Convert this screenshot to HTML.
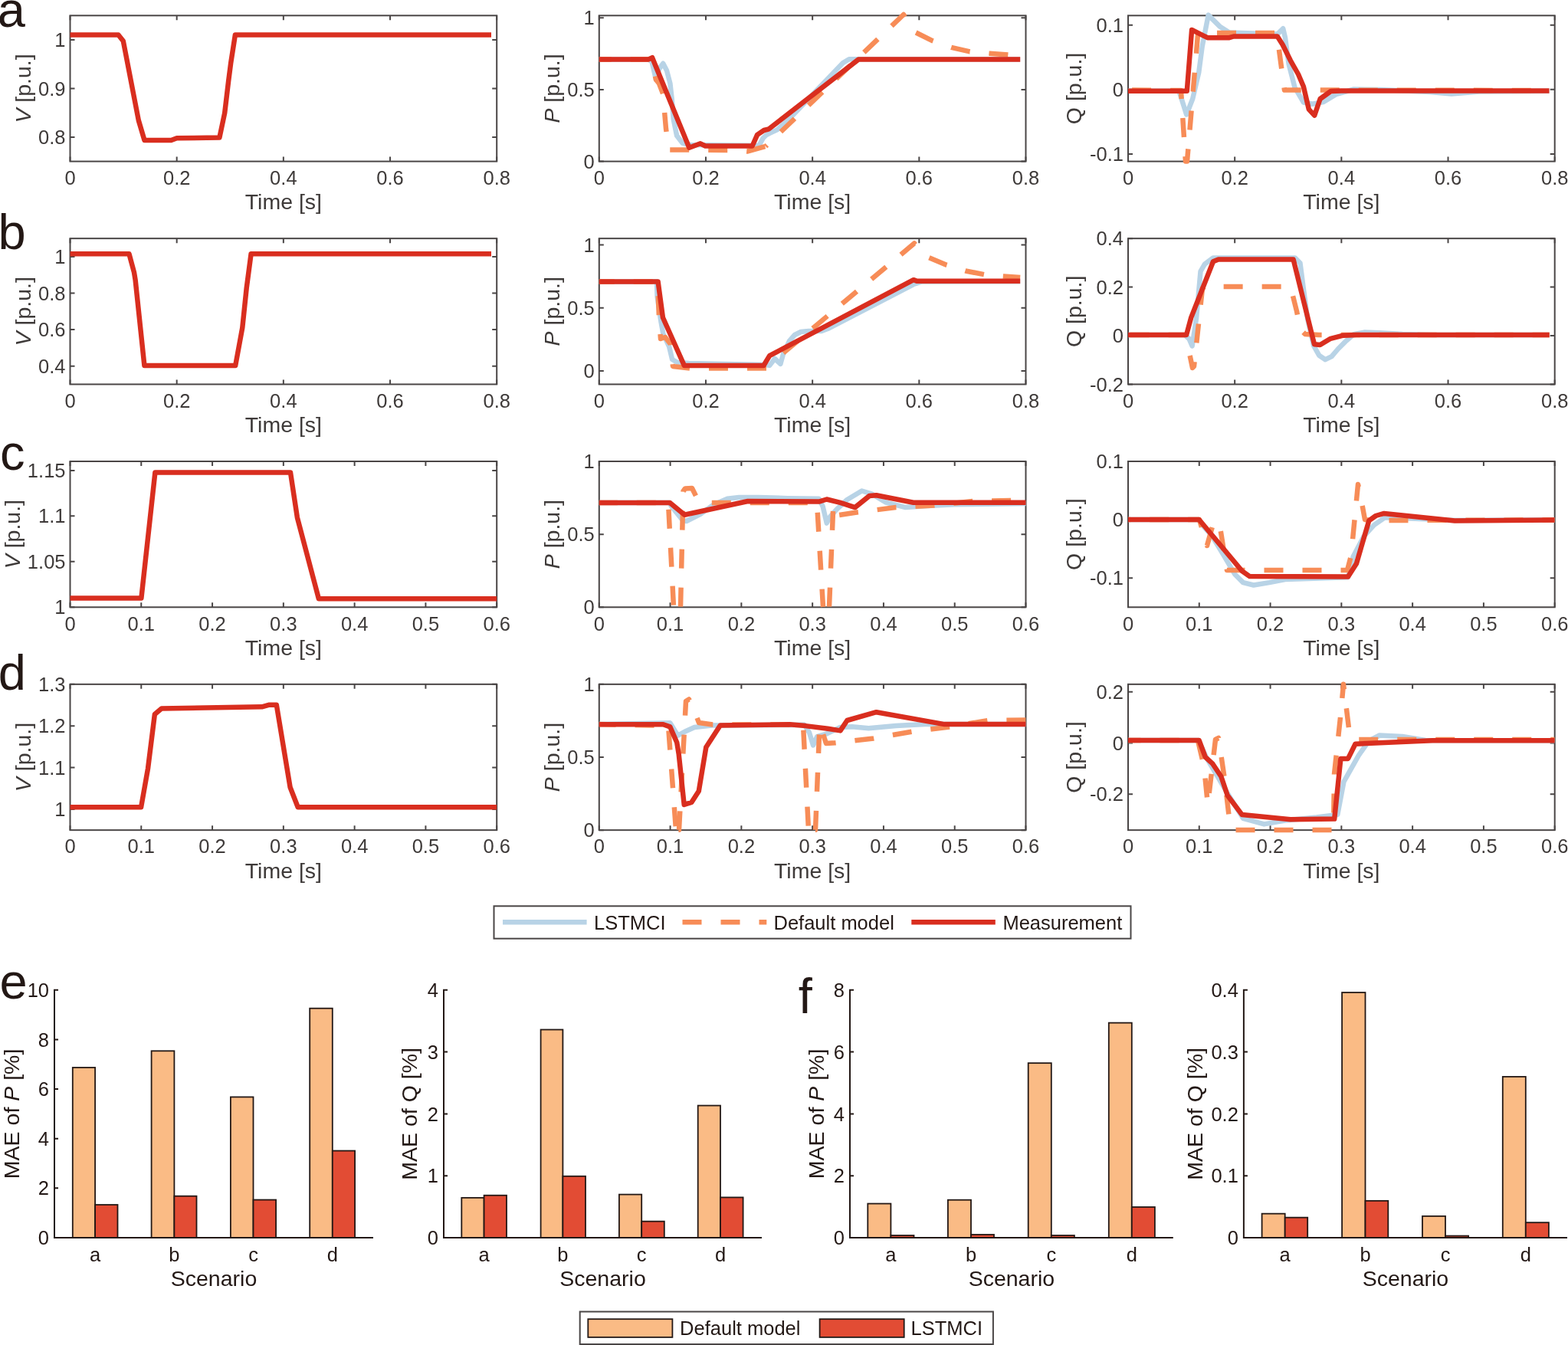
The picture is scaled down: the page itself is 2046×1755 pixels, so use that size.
<!DOCTYPE html>
<html><head><meta charset="utf-8"><title>Figure</title>
<style>html,body{margin:0;padding:0;background:#fff;}svg{display:block;}</style>
</head><body>
<svg width="2046" height="1755" viewBox="0 0 2046 1755" font-family="'Liberation Sans', Arial, Helvetica, sans-serif">
<rect width="2046" height="1755" fill="#fff"/>
<rect x="91.5" y="20.3" width="556.7" height="190.3" fill="none" stroke="#4a4646" stroke-width="2"/>
<text x="91.5" y="240.8" font-size="25.5" fill="#3e3a39" text-anchor="middle" >0</text>
<text x="230.68" y="240.8" font-size="25.5" fill="#3e3a39" text-anchor="middle" >0.2</text>
<text x="369.85" y="240.8" font-size="25.5" fill="#3e3a39" text-anchor="middle" >0.4</text>
<text x="509.03" y="240.8" font-size="25.5" fill="#3e3a39" text-anchor="middle" >0.6</text>
<text x="648.2" y="240.8" font-size="25.5" fill="#3e3a39" text-anchor="middle" >0.8</text>
<text x="85.5" y="188.01" font-size="25.5" fill="#3e3a39" text-anchor="end" >0.8</text>
<text x="85.5" y="124.58" font-size="25.5" fill="#3e3a39" text-anchor="end" >0.9</text>
<text x="85.5" y="61.15" font-size="25.5" fill="#3e3a39" text-anchor="end" >1</text>
<path d="M91.5 210.6v-6M91.5 20.3v6M230.68 210.6v-6M230.68 20.3v6M369.85 210.6v-6M369.85 20.3v6M509.03 210.6v-6M509.03 20.3v6M648.2 210.6v-6M648.2 20.3v6M91.5 178.88h6M648.2 178.88h-6M91.5 115.45h6M648.2 115.45h-6M91.5 52.02h6M648.2 52.02h-6" stroke="#4a4646" stroke-width="2" fill="none"/>
<g fill="none" stroke-linejoin="round">
<path d="M91.5 45.4 L154.4 45.4 L160.8 53.5 L180.8 157 L188.5 183 L223.4 183 L230.7 180.2 L286.4 179.6 L293.2 147.3 L298.1 106.2 L301.1 82.8 L306.9 45.6 L641 45.6" stroke="#d92e1f" stroke-width="6.5"/>
</g>
<text x="369.85" y="273.4" font-size="28.5" fill="#3e3a39" text-anchor="middle" >Time [s]</text>
<text transform="translate(39.7 115.45) rotate(-90)" font-size="28.5" fill="#3e3a39" text-anchor="middle"><tspan font-style="italic">V</tspan> [p.u.]</text>
<rect x="781.8" y="20.3" width="556.7" height="190.3" fill="none" stroke="#4a4646" stroke-width="2"/>
<text x="781.8" y="240.8" font-size="25.5" fill="#3e3a39" text-anchor="middle" >0</text>
<text x="920.97" y="240.8" font-size="25.5" fill="#3e3a39" text-anchor="middle" >0.2</text>
<text x="1060.15" y="240.8" font-size="25.5" fill="#3e3a39" text-anchor="middle" >0.4</text>
<text x="1199.33" y="240.8" font-size="25.5" fill="#3e3a39" text-anchor="middle" >0.6</text>
<text x="1338.5" y="240.8" font-size="25.5" fill="#3e3a39" text-anchor="middle" >0.8</text>
<text x="775.8" y="219.73" font-size="25.5" fill="#3e3a39" text-anchor="end" >0</text>
<text x="775.8" y="126.03" font-size="25.5" fill="#3e3a39" text-anchor="end" >0.5</text>
<text x="775.8" y="32.33" font-size="25.5" fill="#3e3a39" text-anchor="end" >1</text>
<path d="M781.8 210.6v-6M781.8 20.3v6M920.97 210.6v-6M920.97 20.3v6M1060.15 210.6v-6M1060.15 20.3v6M1199.33 210.6v-6M1199.33 20.3v6M1338.5 210.6v-6M1338.5 20.3v6M781.8 210.6h6M1338.5 210.6h-6M781.8 116.9h6M1338.5 116.9h-6M781.8 23.2h6M1338.5 23.2h-6" stroke="#4a4646" stroke-width="2" fill="none"/>
<g fill="none" stroke-linejoin="round">
<path d="M781.8 77.4 L846 77.4 L850.6 80.6 L856 104 L860 90 L865.2 82.8 L870 92 L874.4 108.8 L876.6 128.3 L878.7 155.4 L883.1 177 L890.6 186.8 L900.4 189 L990.3 190 L995.7 180.3 L1000 176 L1004.3 173.8 L1014 169.4 L1030 155 L1100 82 L1108 77.2 L1331.2 77.4" stroke="#b8d3e6" stroke-width="6.5"/>
<path d="M781.8 77.4 L850 77.4 L856 104 L860 109 L865 122 L869 168 L873 195.4 L960 196 L975 197.5 L999 191" stroke="#f78c57" stroke-width="6.5" stroke-dasharray="25 25" stroke-dashoffset="9.1"/>
<path d="M999 191 L1179 19 L1195 42.4 L1217 53.3 L1241.3 61.9 L1265.5 67.4 L1291.3 69.7 L1315.6 71.6 L1331.2 72.3" stroke="#f78c57" stroke-width="6.5" stroke-dasharray="25 25" stroke-dashoffset="22.5"/>
<path d="M781.8 77.4 L846.2 77.4 L851.1 75.2 L899.3 192.7 L913.9 187.3 L920.4 190.5 L981.6 190.5 L988.1 175.9 L996.8 170 L1003.3 168.3 L1120.1 77.6 L1331.2 77.6" stroke="#d92e1f" stroke-width="6.5"/>
</g>
<text x="1060.15" y="273.4" font-size="28.5" fill="#3e3a39" text-anchor="middle" >Time [s]</text>
<text transform="translate(730 115.45) rotate(-90)" font-size="28.5" fill="#3e3a39" text-anchor="middle"><tspan font-style="italic">P</tspan> [p.u.]</text>
<rect x="1472" y="20.3" width="556.7" height="190.3" fill="none" stroke="#4a4646" stroke-width="2"/>
<text x="1472" y="240.8" font-size="25.5" fill="#3e3a39" text-anchor="middle" >0</text>
<text x="1611.17" y="240.8" font-size="25.5" fill="#3e3a39" text-anchor="middle" >0.2</text>
<text x="1750.35" y="240.8" font-size="25.5" fill="#3e3a39" text-anchor="middle" >0.4</text>
<text x="1889.53" y="240.8" font-size="25.5" fill="#3e3a39" text-anchor="middle" >0.6</text>
<text x="2028.7" y="240.8" font-size="25.5" fill="#3e3a39" text-anchor="middle" >0.8</text>
<text x="1466" y="210.06" font-size="25.5" fill="#3e3a39" text-anchor="end" >-0.1</text>
<text x="1466" y="125.97" font-size="25.5" fill="#3e3a39" text-anchor="end" >0</text>
<text x="1466" y="41.87" font-size="25.5" fill="#3e3a39" text-anchor="end" >0.1</text>
<path d="M1472 210.6v-6M1472 20.3v6M1611.17 210.6v-6M1611.17 20.3v6M1750.35 210.6v-6M1750.35 20.3v6M1889.53 210.6v-6M1889.53 20.3v6M2028.7 210.6v-6M2028.7 20.3v6M1472 200.93h6M2028.7 200.93h-6M1472 116.84h6M2028.7 116.84h-6M1472 32.75h6M2028.7 32.75h-6" stroke="#4a4646" stroke-width="2" fill="none"/>
<g fill="none" stroke-linejoin="round">
<path d="M1472 118.7 L1538 118.7 L1540.3 124.4 L1548.2 149.5 L1556.2 129 L1564.2 94.8 L1568.7 60.6 L1576.7 19.6 L1591.5 34.4 L1604.1 42.4 L1666.8 44.6 L1674.2 37.2 L1677 49.2 L1681.6 83.4 L1689.5 114.1 L1700.9 133.5 L1712.3 135.8 L1726.6 133.1 L1743.2 123.1 L1766.5 116.5 L1800 117 L1866 120 L1894 122.5 L1930 119.5 L2021.5 118.7" stroke="#b8d3e6" stroke-width="6.5"/>
<path d="M1472 117.5 L1541 118 L1547 210.6 L1549 210.6 L1563 45 L1588 42.9 L1666 42.9 L1676 117.5 L2021.5 118" stroke="#f78c57" stroke-width="6.5" stroke-dasharray="25 25" stroke-dashoffset="44.9"/>
<path d="M1472 118.7 L1548.8 118.7 L1555.1 38.9 L1569.9 46.3 L1575.6 49.2 L1604.1 49.2 L1609.8 47.5 L1666.8 47.5 L1673.6 58.3 L1683.8 78.8 L1694.1 97 L1700.9 113 L1707.8 142.6 L1715.2 150.6 L1722.6 129 L1736.6 119 L1750 118.5 L2021.5 118.5" stroke="#d92e1f" stroke-width="6.5"/>
</g>
<text x="1750.35" y="273.4" font-size="28.5" fill="#3e3a39" text-anchor="middle" >Time [s]</text>
<text transform="translate(1411 115.45) rotate(-90)" font-size="28.5" fill="#3e3a39" text-anchor="middle">Q [p.u.]</text>
<rect x="91.5" y="311.15" width="556.7" height="190.3" fill="none" stroke="#4a4646" stroke-width="2"/>
<text x="91.5" y="531.65" font-size="25.5" fill="#3e3a39" text-anchor="middle" >0</text>
<text x="230.68" y="531.65" font-size="25.5" fill="#3e3a39" text-anchor="middle" >0.2</text>
<text x="369.85" y="531.65" font-size="25.5" fill="#3e3a39" text-anchor="middle" >0.4</text>
<text x="509.03" y="531.65" font-size="25.5" fill="#3e3a39" text-anchor="middle" >0.6</text>
<text x="648.2" y="531.65" font-size="25.5" fill="#3e3a39" text-anchor="middle" >0.8</text>
<text x="85.5" y="486.79" font-size="25.5" fill="#3e3a39" text-anchor="end" >0.4</text>
<text x="85.5" y="439.22" font-size="25.5" fill="#3e3a39" text-anchor="end" >0.6</text>
<text x="85.5" y="391.64" font-size="25.5" fill="#3e3a39" text-anchor="end" >0.8</text>
<text x="85.5" y="344.07" font-size="25.5" fill="#3e3a39" text-anchor="end" >1</text>
<path d="M91.5 501.45v-6M91.5 311.15v6M230.68 501.45v-6M230.68 311.15v6M369.85 501.45v-6M369.85 311.15v6M509.03 501.45v-6M509.03 311.15v6M648.2 501.45v-6M648.2 311.15v6M91.5 477.66h6M648.2 477.66h-6M91.5 430.09h6M648.2 430.09h-6M91.5 382.51h6M648.2 382.51h-6M91.5 334.94h6M648.2 334.94h-6" stroke="#4a4646" stroke-width="2" fill="none"/>
<g fill="none" stroke-linejoin="round">
<path d="M91.5 331.3 L168.5 331.3 L175 355.5 L176.6 365.2 L188.4 477 L307.2 477 L316.3 427.5 L321.7 375.9 L327.6 331.3 L641 331.3" stroke="#d92e1f" stroke-width="6.5"/>
</g>
<text x="369.85" y="564.25" font-size="28.5" fill="#3e3a39" text-anchor="middle" >Time [s]</text>
<text transform="translate(39.7 406.3) rotate(-90)" font-size="28.5" fill="#3e3a39" text-anchor="middle"><tspan font-style="italic">V</tspan> [p.u.]</text>
<rect x="781.8" y="311.15" width="556.7" height="190.3" fill="none" stroke="#4a4646" stroke-width="2"/>
<text x="781.8" y="531.65" font-size="25.5" fill="#3e3a39" text-anchor="middle" >0</text>
<text x="920.97" y="531.65" font-size="25.5" fill="#3e3a39" text-anchor="middle" >0.2</text>
<text x="1060.15" y="531.65" font-size="25.5" fill="#3e3a39" text-anchor="middle" >0.4</text>
<text x="1199.33" y="531.65" font-size="25.5" fill="#3e3a39" text-anchor="middle" >0.6</text>
<text x="1338.5" y="531.65" font-size="25.5" fill="#3e3a39" text-anchor="middle" >0.8</text>
<text x="775.8" y="493.14" font-size="25.5" fill="#3e3a39" text-anchor="end" >0</text>
<text x="775.8" y="410.91" font-size="25.5" fill="#3e3a39" text-anchor="end" >0.5</text>
<text x="775.8" y="328.67" font-size="25.5" fill="#3e3a39" text-anchor="end" >1</text>
<path d="M781.8 501.45v-6M781.8 311.15v6M920.97 501.45v-6M920.97 311.15v6M1060.15 501.45v-6M1060.15 311.15v6M1199.33 501.45v-6M1199.33 311.15v6M1338.5 501.45v-6M1338.5 311.15v6M781.8 484.02h6M1338.5 484.02h-6M781.8 401.78h6M1338.5 401.78h-6M781.8 319.54h6M1338.5 319.54h-6" stroke="#4a4646" stroke-width="2" fill="none"/>
<g fill="none" stroke-linejoin="round">
<path d="M781.8 367.4 L857 367.4 L857.6 386.9 L862.5 420 L865.4 435.8 L873.2 452.4 L877.1 469 L884 473 L898.7 474 L996.4 475.9 L1004.2 476.9 L1011 468 L1018.4 474.9 L1022 462 L1030 445 L1037 437 L1045 433 L1055 432 L1072 432 L1080 429 L1192 371 L1203 367.5 L1331.2 367.2" stroke="#b8d3e6" stroke-width="6.5"/>
<path d="M781.8 367.4 L858 367.4 L860 415 L862 442 L868 440 L875 449 L878 478 L900 480.5 L1000 480.5 L1005 476" stroke="#f78c57" stroke-width="6.5" stroke-dasharray="25 25" stroke-dashoffset="5.1"/>
<path d="M1005 476 L1018.9 463.2 L1193 317.5 L1205 331 L1212.4 336.3 L1235 345.7 L1260 353.5 L1284.3 358.2 L1309.3 360.5 L1331.2 362.1" stroke="#f78c57" stroke-width="6.5" stroke-dasharray="25 25" stroke-dashoffset="26.9"/>
<path d="M781.8 367.4 L858.6 367.4 L864.9 414.3 L892.8 476.9 L996.4 477 L1004.2 464.1 L1192 365.2 L1196.7 366.8 L1331.2 366.8" stroke="#d92e1f" stroke-width="6.5"/>
</g>
<text x="1060.15" y="564.25" font-size="28.5" fill="#3e3a39" text-anchor="middle" >Time [s]</text>
<text transform="translate(730 406.3) rotate(-90)" font-size="28.5" fill="#3e3a39" text-anchor="middle"><tspan font-style="italic">P</tspan> [p.u.]</text>
<rect x="1472" y="311.15" width="556.7" height="190.3" fill="none" stroke="#4a4646" stroke-width="2"/>
<text x="1472" y="531.65" font-size="25.5" fill="#3e3a39" text-anchor="middle" >0</text>
<text x="1611.17" y="531.65" font-size="25.5" fill="#3e3a39" text-anchor="middle" >0.2</text>
<text x="1750.35" y="531.65" font-size="25.5" fill="#3e3a39" text-anchor="middle" >0.4</text>
<text x="1889.53" y="531.65" font-size="25.5" fill="#3e3a39" text-anchor="middle" >0.6</text>
<text x="2028.7" y="531.65" font-size="25.5" fill="#3e3a39" text-anchor="middle" >0.8</text>
<text x="1466" y="510.58" font-size="25.5" fill="#3e3a39" text-anchor="end" >-0.2</text>
<text x="1466" y="447.15" font-size="25.5" fill="#3e3a39" text-anchor="end" >0</text>
<text x="1466" y="383.71" font-size="25.5" fill="#3e3a39" text-anchor="end" >0.2</text>
<text x="1466" y="320.28" font-size="25.5" fill="#3e3a39" text-anchor="end" >0.4</text>
<path d="M1472 501.45v-6M1472 311.15v6M1611.17 501.45v-6M1611.17 311.15v6M1750.35 501.45v-6M1750.35 311.15v6M1889.53 501.45v-6M1889.53 311.15v6M2028.7 501.45v-6M2028.7 311.15v6M1472 501.45h6M2028.7 501.45h-6M1472 438.02h6M2028.7 438.02h-6M1472 374.58h6M2028.7 374.58h-6M1472 311.15h6M2028.7 311.15h-6" stroke="#4a4646" stroke-width="2" fill="none"/>
<g fill="none" stroke-linejoin="round">
<path d="M1472 437 L1546 437 L1551.5 442 L1555.6 451.4 L1561 415.8 L1566.5 354.2 L1572 344.6 L1583 336.4 L1689.7 336.4 L1696.5 343.3 L1700.6 374.7 L1706.1 415.8 L1714.3 451.4 L1721.2 463.7 L1729.4 469.2 L1737.6 465.1 L1745.8 455.5 L1755.4 445.9 L1766.3 436.3 L1780 433.6 L1800 434.3 L1830 436 L1870 437 L2021.7 437" stroke="#b8d3e6" stroke-width="6.5"/>
<path d="M1472 437 L1547 437 L1556 480 L1558 478 L1569 376 L1572 374 L1684 374 L1692 406 L1697 430 L1703 436 L1721 437 L2021.7 437" stroke="#f78c57" stroke-width="6.5" stroke-dasharray="25 25" stroke-dashoffset="47.4"/>
<path d="M1472 437 L1548.1 437 L1554.2 414.4 L1583 341.2 L1589.8 338.5 L1687.6 338.5 L1715 449.3 L1722.5 450 L1736.2 441.8 L1752.7 437.7 L1770 437 L2021.7 436.9" stroke="#d92e1f" stroke-width="6.5"/>
</g>
<text x="1750.35" y="564.25" font-size="28.5" fill="#3e3a39" text-anchor="middle" >Time [s]</text>
<text transform="translate(1411 406.3) rotate(-90)" font-size="28.5" fill="#3e3a39" text-anchor="middle">Q [p.u.]</text>
<rect x="91.5" y="602" width="556.7" height="190.3" fill="none" stroke="#4a4646" stroke-width="2"/>
<text x="91.5" y="822.5" font-size="25.5" fill="#3e3a39" text-anchor="middle" >0</text>
<text x="184.28" y="822.5" font-size="25.5" fill="#3e3a39" text-anchor="middle" >0.1</text>
<text x="277.07" y="822.5" font-size="25.5" fill="#3e3a39" text-anchor="middle" >0.2</text>
<text x="369.85" y="822.5" font-size="25.5" fill="#3e3a39" text-anchor="middle" >0.3</text>
<text x="462.63" y="822.5" font-size="25.5" fill="#3e3a39" text-anchor="middle" >0.4</text>
<text x="555.42" y="822.5" font-size="25.5" fill="#3e3a39" text-anchor="middle" >0.5</text>
<text x="648.2" y="822.5" font-size="25.5" fill="#3e3a39" text-anchor="middle" >0.6</text>
<text x="85.5" y="801.43" font-size="25.5" fill="#3e3a39" text-anchor="end" >1</text>
<text x="85.5" y="741.96" font-size="25.5" fill="#3e3a39" text-anchor="end" >1.05</text>
<text x="85.5" y="682.49" font-size="25.5" fill="#3e3a39" text-anchor="end" >1.1</text>
<text x="85.5" y="623.02" font-size="25.5" fill="#3e3a39" text-anchor="end" >1.15</text>
<path d="M91.5 792.3v-6M91.5 602v6M184.28 792.3v-6M184.28 602v6M277.07 792.3v-6M277.07 602v6M369.85 792.3v-6M369.85 602v6M462.63 792.3v-6M462.63 602v6M555.42 792.3v-6M555.42 602v6M648.2 792.3v-6M648.2 602v6M91.5 792.3h6M648.2 792.3h-6M91.5 732.83h6M648.2 732.83h-6M91.5 673.36h6M648.2 673.36h-6M91.5 613.89h6M648.2 613.89h-6" stroke="#4a4646" stroke-width="2" fill="none"/>
<g fill="none" stroke-linejoin="round">
<path d="M91.5 780.4 L184.4 780.4 L202.4 616.4 L379 616.4 L387.9 675.3 L415.9 781.3 L648.2 781.3" stroke="#d92e1f" stroke-width="6.5"/>
</g>
<text x="369.85" y="855.1" font-size="28.5" fill="#3e3a39" text-anchor="middle" >Time [s]</text>
<text transform="translate(25.5 697.15) rotate(-90)" font-size="28.5" fill="#3e3a39" text-anchor="middle"><tspan font-style="italic">V</tspan> [p.u.]</text>
<rect x="781.8" y="602" width="556.7" height="190.3" fill="none" stroke="#4a4646" stroke-width="2"/>
<text x="781.8" y="822.5" font-size="25.5" fill="#3e3a39" text-anchor="middle" >0</text>
<text x="874.58" y="822.5" font-size="25.5" fill="#3e3a39" text-anchor="middle" >0.1</text>
<text x="967.37" y="822.5" font-size="25.5" fill="#3e3a39" text-anchor="middle" >0.2</text>
<text x="1060.15" y="822.5" font-size="25.5" fill="#3e3a39" text-anchor="middle" >0.3</text>
<text x="1152.93" y="822.5" font-size="25.5" fill="#3e3a39" text-anchor="middle" >0.4</text>
<text x="1245.72" y="822.5" font-size="25.5" fill="#3e3a39" text-anchor="middle" >0.5</text>
<text x="1338.5" y="822.5" font-size="25.5" fill="#3e3a39" text-anchor="middle" >0.6</text>
<text x="775.8" y="801.43" font-size="25.5" fill="#3e3a39" text-anchor="end" >0</text>
<text x="775.8" y="706.28" font-size="25.5" fill="#3e3a39" text-anchor="end" >0.5</text>
<text x="775.8" y="611.13" font-size="25.5" fill="#3e3a39" text-anchor="end" >1</text>
<path d="M781.8 792.3v-6M781.8 602v6M874.58 792.3v-6M874.58 602v6M967.37 792.3v-6M967.37 602v6M1060.15 792.3v-6M1060.15 602v6M1152.93 792.3v-6M1152.93 602v6M1245.72 792.3v-6M1245.72 602v6M1338.5 792.3v-6M1338.5 602v6M781.8 792.3h6M1338.5 792.3h-6M781.8 697.15h6M1338.5 697.15h-6M781.8 602h6M1338.5 602h-6" stroke="#4a4646" stroke-width="2" fill="none"/>
<g fill="none" stroke-linejoin="round">
<path d="M781.8 655.9 L874 655.9 L875.4 659.7 L890.7 678.8 L895.7 680 L913.5 671.2 L931.3 658.5 L949.1 650.8 L964.4 648.9 L989.8 648.9 L1027.9 650.2 L1068.6 650.8 L1073.7 661 L1078.7 682.6 L1082.6 675 L1091.5 664.8 L1105.4 652 L1124.5 640.5 L1137.2 644.3 L1156.2 655.7 L1181.7 662.1 L1207 660.2 L1245.2 658.3 L1338.5 657" stroke="#b8d3e6" stroke-width="6.5"/>
<path d="M781.8 655.9 L872 656 L879 792" stroke="#f78c57" stroke-width="6.5" stroke-dasharray="25 25" stroke-dashoffset="1.0"/>
<path d="M879 792 L888 792 L891.5 641 L894 637.5 L903 637 L909 649 L916 655.9 L1066 656 L1074 792" stroke="#f78c57" stroke-width="6.5" stroke-dasharray="25 25" stroke-dashoffset="40.6"/>
<path d="M1074 792 L1082 792 L1087 667" stroke="#f78c57" stroke-width="6.5" stroke-dasharray="25 25" stroke-dashoffset="41.7"/>
<path d="M1087 667 L1095 672 L1118 668.5 L1169 662 L1219 659.6 L1269 654 L1338.5 652.5" stroke="#f78c57" stroke-width="6.5" stroke-dasharray="25 25" stroke-dashoffset="40.4"/>
<path d="M781.8 655.9 L874.1 655.9 L893.2 671.8 L975.8 654 L1068.6 654.6 L1078.7 651.5 L1096.5 655.9 L1115.6 662.1 L1134.6 646.9 L1143.5 646.2 L1191.8 655.7 L1338.5 655.7" stroke="#d92e1f" stroke-width="6.5"/>
</g>
<text x="1060.15" y="855.1" font-size="28.5" fill="#3e3a39" text-anchor="middle" >Time [s]</text>
<text transform="translate(730 697.15) rotate(-90)" font-size="28.5" fill="#3e3a39" text-anchor="middle"><tspan font-style="italic">P</tspan> [p.u.]</text>
<rect x="1472" y="602" width="556.7" height="190.3" fill="none" stroke="#4a4646" stroke-width="2"/>
<text x="1472" y="822.5" font-size="25.5" fill="#3e3a39" text-anchor="middle" >0</text>
<text x="1564.78" y="822.5" font-size="25.5" fill="#3e3a39" text-anchor="middle" >0.1</text>
<text x="1657.57" y="822.5" font-size="25.5" fill="#3e3a39" text-anchor="middle" >0.2</text>
<text x="1750.35" y="822.5" font-size="25.5" fill="#3e3a39" text-anchor="middle" >0.3</text>
<text x="1843.13" y="822.5" font-size="25.5" fill="#3e3a39" text-anchor="middle" >0.4</text>
<text x="1935.92" y="822.5" font-size="25.5" fill="#3e3a39" text-anchor="middle" >0.5</text>
<text x="2028.7" y="822.5" font-size="25.5" fill="#3e3a39" text-anchor="middle" >0.6</text>
<text x="1466" y="763.37" font-size="25.5" fill="#3e3a39" text-anchor="end" >-0.1</text>
<text x="1466" y="687.25" font-size="25.5" fill="#3e3a39" text-anchor="end" >0</text>
<text x="1466" y="611.13" font-size="25.5" fill="#3e3a39" text-anchor="end" >0.1</text>
<path d="M1472 792.3v-6M1472 602v6M1564.78 792.3v-6M1564.78 602v6M1657.57 792.3v-6M1657.57 602v6M1750.35 792.3v-6M1750.35 602v6M1843.13 792.3v-6M1843.13 602v6M1935.92 792.3v-6M1935.92 602v6M2028.7 792.3v-6M2028.7 602v6M1472 754.24h6M2028.7 754.24h-6M1472 678.12h6M2028.7 678.12h-6M1472 602h6M2028.7 602h-6" stroke="#4a4646" stroke-width="2" fill="none"/>
<g fill="none" stroke-linejoin="round">
<path d="M1472 678 L1564 678 L1567.4 683.5 L1581 698.5 L1597.5 725.9 L1611.2 749.2 L1622.1 760.1 L1635.8 763.5 L1656.3 760.1 L1676.9 756 L1759 753.3 L1765.8 725.9 L1779.5 699.9 L1793.2 684.9 L1806.9 675.3 L1830 676 L1898 679 L2028.5 678.5" stroke="#b8d3e6" stroke-width="6.5"/>
<path d="M1472 678 L1565 678 L1575 712 L1584 680 L1592 688 L1601 744 L1758 744 L1763 725 L1772 632 L1774 640 L1781 678 L1790 679 L2028.5 678.5" stroke="#f78c57" stroke-width="6.5" stroke-dasharray="25 25" stroke-dashoffset="21.8"/>
<path d="M1472 678 L1564.6 678 L1620.7 745.1 L1630.3 751.9 L1759 752.6 L1769.9 735.5 L1786.3 679.4 L1795.2 673 L1806 669.9 L1898.2 679.4 L2028.5 678.5" stroke="#d92e1f" stroke-width="6.5"/>
</g>
<text x="1750.35" y="855.1" font-size="28.5" fill="#3e3a39" text-anchor="middle" >Time [s]</text>
<text transform="translate(1411 697.15) rotate(-90)" font-size="28.5" fill="#3e3a39" text-anchor="middle">Q [p.u.]</text>
<rect x="91.5" y="892.85" width="556.7" height="190.3" fill="none" stroke="#4a4646" stroke-width="2"/>
<text x="91.5" y="1113.35" font-size="25.5" fill="#3e3a39" text-anchor="middle" >0</text>
<text x="184.28" y="1113.35" font-size="25.5" fill="#3e3a39" text-anchor="middle" >0.1</text>
<text x="277.07" y="1113.35" font-size="25.5" fill="#3e3a39" text-anchor="middle" >0.2</text>
<text x="369.85" y="1113.35" font-size="25.5" fill="#3e3a39" text-anchor="middle" >0.3</text>
<text x="462.63" y="1113.35" font-size="25.5" fill="#3e3a39" text-anchor="middle" >0.4</text>
<text x="555.42" y="1113.35" font-size="25.5" fill="#3e3a39" text-anchor="middle" >0.5</text>
<text x="648.2" y="1113.35" font-size="25.5" fill="#3e3a39" text-anchor="middle" >0.6</text>
<text x="85.5" y="1065.09" font-size="25.5" fill="#3e3a39" text-anchor="end" >1</text>
<text x="85.5" y="1010.72" font-size="25.5" fill="#3e3a39" text-anchor="end" >1.1</text>
<text x="85.5" y="956.35" font-size="25.5" fill="#3e3a39" text-anchor="end" >1.2</text>
<text x="85.5" y="901.98" font-size="25.5" fill="#3e3a39" text-anchor="end" >1.3</text>
<path d="M91.5 1083.15v-6M91.5 892.85v6M184.28 1083.15v-6M184.28 892.85v6M277.07 1083.15v-6M277.07 892.85v6M369.85 1083.15v-6M369.85 892.85v6M462.63 1083.15v-6M462.63 892.85v6M555.42 1083.15v-6M555.42 892.85v6M648.2 1083.15v-6M648.2 892.85v6M91.5 1055.96h6M648.2 1055.96h-6M91.5 1001.59h6M648.2 1001.59h-6M91.5 947.22h6M648.2 947.22h-6M91.5 892.85h6M648.2 892.85h-6" stroke="#4a4646" stroke-width="2" fill="none"/>
<g fill="none" stroke-linejoin="round">
<path d="M91.5 1053.2 L184.1 1053.2 L193 1003 L201.9 931.9 L210.8 924.4 L341.7 922.3 L350.6 919.8 L360.8 919.8 L378.6 1027.2 L388.7 1053.2 L648.2 1053.2" stroke="#d92e1f" stroke-width="6.5"/>
</g>
<text x="369.85" y="1145.95" font-size="28.5" fill="#3e3a39" text-anchor="middle" >Time [s]</text>
<text transform="translate(39.7 988) rotate(-90)" font-size="28.5" fill="#3e3a39" text-anchor="middle"><tspan font-style="italic">V</tspan> [p.u.]</text>
<rect x="781.8" y="892.85" width="556.7" height="190.3" fill="none" stroke="#4a4646" stroke-width="2"/>
<text x="781.8" y="1113.35" font-size="25.5" fill="#3e3a39" text-anchor="middle" >0</text>
<text x="874.58" y="1113.35" font-size="25.5" fill="#3e3a39" text-anchor="middle" >0.1</text>
<text x="967.37" y="1113.35" font-size="25.5" fill="#3e3a39" text-anchor="middle" >0.2</text>
<text x="1060.15" y="1113.35" font-size="25.5" fill="#3e3a39" text-anchor="middle" >0.3</text>
<text x="1152.93" y="1113.35" font-size="25.5" fill="#3e3a39" text-anchor="middle" >0.4</text>
<text x="1245.72" y="1113.35" font-size="25.5" fill="#3e3a39" text-anchor="middle" >0.5</text>
<text x="1338.5" y="1113.35" font-size="25.5" fill="#3e3a39" text-anchor="middle" >0.6</text>
<text x="775.8" y="1092.28" font-size="25.5" fill="#3e3a39" text-anchor="end" >0</text>
<text x="775.8" y="997.13" font-size="25.5" fill="#3e3a39" text-anchor="end" >0.5</text>
<text x="775.8" y="901.98" font-size="25.5" fill="#3e3a39" text-anchor="end" >1</text>
<path d="M781.8 1083.15v-6M781.8 892.85v6M874.58 1083.15v-6M874.58 892.85v6M967.37 1083.15v-6M967.37 892.85v6M1060.15 1083.15v-6M1060.15 892.85v6M1152.93 1083.15v-6M1152.93 892.85v6M1245.72 1083.15v-6M1245.72 892.85v6M1338.5 1083.15v-6M1338.5 892.85v6M781.8 1083.15h6M1338.5 1083.15h-6M781.8 988h6M1338.5 988h-6M781.8 892.85h6M1338.5 892.85h-6" stroke="#4a4646" stroke-width="2" fill="none"/>
<g fill="none" stroke-linejoin="round">
<path d="M781.8 945 L874.3 943.3 L884.5 959.8 L893.4 954.7 L906.1 949 L929 946.5 L1049.7 945.8 L1056 956 L1061.1 972.5 L1066.2 961.1 L1078.9 957.3 L1096.5 948.9 L1111.8 948.3 L1133.4 950.2 L1169 947 L1207.1 945.1 L1338.5 945.1" stroke="#b8d3e6" stroke-width="6.5"/>
<path d="M781.8 945 L872 947 L882 1082.8" stroke="#f78c57" stroke-width="6.5" stroke-dasharray="25 25" stroke-dashoffset="3.2"/>
<path d="M882 1082.8 L886 1082.8 L895 915 L899 912.5 L905 925 L912 943 L930 945.5 L1048 945.5 L1055 1082.8" stroke="#f78c57" stroke-width="6.5" stroke-dasharray="25 25" stroke-dashoffset="46.6"/>
<path d="M1055 1082.8 L1064 1082.8 L1069 958.5" stroke="#f78c57" stroke-width="6.5" stroke-dasharray="25 25" stroke-dashoffset="41.1"/>
<path d="M1069 958.5 L1074 958 L1078 970 L1090 969.3 L1140 963.5 L1190 954.6 L1240 948.3 L1289 940 L1338.5 939.4" stroke="#f78c57" stroke-width="6.5" stroke-dasharray="25 25" stroke-dashoffset="44.7"/>
<path d="M781.8 945.2 L865.4 945.2 L874.3 948.4 L883.2 968.7 L885.7 984 L892.7 1050 L902.3 1046.9 L911.8 1032.2 L921.3 975.1 L939.8 946.5 L1030.6 945.2 L1050.9 947.1 L1080 950.8 L1096.5 953.4 L1105.4 940 L1143.5 929.2 L1232.5 945.1 L1338.5 945.1" stroke="#d92e1f" stroke-width="6.5"/>
</g>
<text x="1060.15" y="1145.95" font-size="28.5" fill="#3e3a39" text-anchor="middle" >Time [s]</text>
<text transform="translate(730 988) rotate(-90)" font-size="28.5" fill="#3e3a39" text-anchor="middle"><tspan font-style="italic">P</tspan> [p.u.]</text>
<rect x="1472" y="892.85" width="556.7" height="190.3" fill="none" stroke="#4a4646" stroke-width="2"/>
<text x="1472" y="1113.35" font-size="25.5" fill="#3e3a39" text-anchor="middle" >0</text>
<text x="1564.78" y="1113.35" font-size="25.5" fill="#3e3a39" text-anchor="middle" >0.1</text>
<text x="1657.57" y="1113.35" font-size="25.5" fill="#3e3a39" text-anchor="middle" >0.2</text>
<text x="1750.35" y="1113.35" font-size="25.5" fill="#3e3a39" text-anchor="middle" >0.3</text>
<text x="1843.13" y="1113.35" font-size="25.5" fill="#3e3a39" text-anchor="middle" >0.4</text>
<text x="1935.92" y="1113.35" font-size="25.5" fill="#3e3a39" text-anchor="middle" >0.5</text>
<text x="2028.7" y="1113.35" font-size="25.5" fill="#3e3a39" text-anchor="middle" >0.6</text>
<text x="1466" y="1045.29" font-size="25.5" fill="#3e3a39" text-anchor="end" >-0.2</text>
<text x="1466" y="978.63" font-size="25.5" fill="#3e3a39" text-anchor="end" >0</text>
<text x="1466" y="911.98" font-size="25.5" fill="#3e3a39" text-anchor="end" >0.2</text>
<path d="M1472 1083.15v-6M1472 892.85v6M1564.78 1083.15v-6M1564.78 892.85v6M1657.57 1083.15v-6M1657.57 892.85v6M1750.35 1083.15v-6M1750.35 892.85v6M1843.13 1083.15v-6M1843.13 892.85v6M1935.92 1083.15v-6M1935.92 892.85v6M2028.7 1083.15v-6M2028.7 892.85v6M1472 1036.16h6M2028.7 1036.16h-6M1472 969.5h6M2028.7 969.5h-6M1472 902.85h6M2028.7 902.85h-6" stroke="#4a4646" stroke-width="2" fill="none"/>
<g fill="none" stroke-linejoin="round">
<path d="M1472 966 L1564 966 L1574.2 988.5 L1601.6 1035 L1622.1 1067.9 L1649.5 1075.4 L1676.9 1070.6 L1717.9 1066.5 L1745.3 1063 L1753.5 1020 L1772.7 985.8 L1786.3 966.6 L1800 959.5 L1830 961 L1860 966 L2028.5 966.2" stroke="#b8d3e6" stroke-width="6.5"/>
<path d="M1472 966 L1563 966 L1571 1000 L1576 1050 L1586 965 L1590 963 L1598 1017 L1604 1068 L1609 1083 L1740 1083 L1741 1010 L1749 936 L1753 892.8 L1760 950 L1765 965 L2028.5 965" stroke="#f78c57" stroke-width="6.5" stroke-dasharray="25 25" stroke-dashoffset="8.5"/>
<path d="M1472 966 L1564.6 966 L1572.8 987.9 L1582.4 996.7 L1593.4 1013.2 L1601.6 1037.8 L1620.7 1063.1 L1683.7 1069.3 L1741.2 1068.6 L1749.4 989.9 L1759 989.9 L1768.5 970.7 L1869 966.2 L2028.5 966.2" stroke="#d92e1f" stroke-width="6.5"/>
</g>
<text x="1750.35" y="1145.95" font-size="28.5" fill="#3e3a39" text-anchor="middle" >Time [s]</text>
<text transform="translate(1411 988) rotate(-90)" font-size="28.5" fill="#3e3a39" text-anchor="middle">Q [p.u.]</text>
<text x="-3.2" y="34.9" font-size="65" fill="#231815" text-anchor="start" >a</text>
<text x="-2.4" y="324.8" font-size="65" fill="#231815" text-anchor="start" >b</text>
<text x="-0.1" y="612.9" font-size="65" fill="#231815" text-anchor="start" >c</text>
<text x="-2.2" y="899.9" font-size="65" fill="#231815" text-anchor="start" >d</text>
<text x="-0.6" y="1303" font-size="65" fill="#231815" text-anchor="start" >e</text>
<text x="1041.7" y="1322" font-size="65" fill="#231815" text-anchor="start" >f</text>
<rect x="644.5" y="1182.3" width="831" height="42.4" fill="#fff" stroke="#4a4646" stroke-width="2"/>
<path d="M656 1203.3H765.6" stroke="#b8d3e6" stroke-width="6.5"/>
<path d="M890.5 1203.3H1000.3" stroke="#f78c57" stroke-width="6.5" stroke-dasharray="25 25"/>
<path d="M1189.3 1203.3H1298.8" stroke="#d92e1f" stroke-width="6.5"/>
<text x="775" y="1213" font-size="25.5" fill="#231815" text-anchor="start" >LSTMCI</text>
<text x="1009.5" y="1213" font-size="25.5" fill="#231815" text-anchor="start" >Default model</text>
<text x="1308.4" y="1213" font-size="25.5" fill="#231815" text-anchor="start" >Measurement</text>
<rect x="94.8" y="1392.96" width="29.3" height="222.04" fill="#fabb85" stroke="#231815" stroke-width="1.8"/>
<rect x="124.1" y="1572.01" width="29.4" height="42.99" fill="#e24c34" stroke="#231815" stroke-width="1.8"/>
<rect x="197.6" y="1371.31" width="29.8" height="243.69" fill="#fabb85" stroke="#231815" stroke-width="1.8"/>
<rect x="227.4" y="1560.7" width="29.1" height="54.3" fill="#e24c34" stroke="#231815" stroke-width="1.8"/>
<rect x="300.9" y="1431.42" width="29.6" height="183.58" fill="#fabb85" stroke="#231815" stroke-width="1.8"/>
<rect x="330.5" y="1565.55" width="29.6" height="49.45" fill="#e24c34" stroke="#231815" stroke-width="1.8"/>
<rect x="404.2" y="1315.72" width="29.6" height="299.28" fill="#fabb85" stroke="#231815" stroke-width="1.8"/>
<rect x="433.8" y="1501.56" width="29.3" height="113.44" fill="#e24c34" stroke="#231815" stroke-width="1.8"/>
<text x="64" y="1624.13" font-size="25.5" fill="#231815" text-anchor="end" >0</text>
<text x="64" y="1559.49" font-size="25.5" fill="#231815" text-anchor="end" >2</text>
<text x="64" y="1494.85" font-size="25.5" fill="#231815" text-anchor="end" >4</text>
<text x="64" y="1430.21" font-size="25.5" fill="#231815" text-anchor="end" >6</text>
<text x="64" y="1365.57" font-size="25.5" fill="#231815" text-anchor="end" >8</text>
<text x="64" y="1300.93" font-size="25.5" fill="#231815" text-anchor="end" >10</text>
<path d="M71 1290.8V1615H487M71 1615h5M71 1550.36h5M71 1485.72h5M71 1421.08h5M71 1356.44h5M71 1291.8h5" stroke="#231815" stroke-width="2" fill="none"/>
<text x="124.1" y="1645.5" font-size="25.5" fill="#231815" text-anchor="middle" >a</text>
<text x="227.4" y="1645.5" font-size="25.5" fill="#231815" text-anchor="middle" >b</text>
<text x="330.5" y="1645.5" font-size="25.5" fill="#231815" text-anchor="middle" >c</text>
<text x="433.8" y="1645.5" font-size="25.5" fill="#231815" text-anchor="middle" >d</text>
<text x="279" y="1677.5" font-size="28.5" fill="#231815" text-anchor="middle" >Scenario</text>
<text transform="translate(25.3 1453.4) rotate(-90)" font-size="28.5" fill="#231815" text-anchor="middle">MAE of <tspan font-style="italic">P</tspan> [%]</text>
<rect x="602.3" y="1562.88" width="29.3" height="52.12" fill="#fabb85" stroke="#231815" stroke-width="1.8"/>
<rect x="631.6" y="1559.73" width="29.4" height="55.27" fill="#e24c34" stroke="#231815" stroke-width="1.8"/>
<rect x="705.6" y="1343.51" width="28.8" height="271.49" fill="#fabb85" stroke="#231815" stroke-width="1.8"/>
<rect x="734.4" y="1534.77" width="29.6" height="80.23" fill="#e24c34" stroke="#231815" stroke-width="1.8"/>
<rect x="807.9" y="1558.6" width="29.3" height="56.4" fill="#fabb85" stroke="#231815" stroke-width="1.8"/>
<rect x="837.2" y="1593.67" width="29.6" height="21.33" fill="#e24c34" stroke="#231815" stroke-width="1.8"/>
<rect x="910.7" y="1442.57" width="29.3" height="172.43" fill="#fabb85" stroke="#231815" stroke-width="1.8"/>
<rect x="940" y="1562.4" width="29.6" height="52.6" fill="#e24c34" stroke="#231815" stroke-width="1.8"/>
<text x="572" y="1624.13" font-size="25.5" fill="#231815" text-anchor="end" >0</text>
<text x="572" y="1543.33" font-size="25.5" fill="#231815" text-anchor="end" >1</text>
<text x="572" y="1462.53" font-size="25.5" fill="#231815" text-anchor="end" >2</text>
<text x="572" y="1381.73" font-size="25.5" fill="#231815" text-anchor="end" >3</text>
<text x="572" y="1300.93" font-size="25.5" fill="#231815" text-anchor="end" >4</text>
<path d="M579 1290.8V1615H994M579 1615h5M579 1534.2h5M579 1453.4h5M579 1372.6h5M579 1291.8h5" stroke="#231815" stroke-width="2" fill="none"/>
<text x="631.6" y="1645.5" font-size="25.5" fill="#231815" text-anchor="middle" >a</text>
<text x="734.4" y="1645.5" font-size="25.5" fill="#231815" text-anchor="middle" >b</text>
<text x="837.2" y="1645.5" font-size="25.5" fill="#231815" text-anchor="middle" >c</text>
<text x="940" y="1645.5" font-size="25.5" fill="#231815" text-anchor="middle" >d</text>
<text x="786.5" y="1677.5" font-size="28.5" fill="#231815" text-anchor="middle" >Scenario</text>
<text transform="translate(544 1453.4) rotate(-90)" font-size="28.5" fill="#231815" text-anchor="middle">MAE of Q [%]</text>
<rect x="1132.3" y="1570.56" width="30.1" height="44.44" fill="#fabb85" stroke="#231815" stroke-width="1.8"/>
<rect x="1162.4" y="1612.01" width="30.1" height="2.99" fill="#e24c34" stroke="#231815" stroke-width="1.8"/>
<rect x="1236.9" y="1565.71" width="30.1" height="49.29" fill="#fabb85" stroke="#231815" stroke-width="1.8"/>
<rect x="1267" y="1610.96" width="30" height="4.04" fill="#e24c34" stroke="#231815" stroke-width="1.8"/>
<rect x="1341.7" y="1387.14" width="30.1" height="227.86" fill="#fabb85" stroke="#231815" stroke-width="1.8"/>
<rect x="1371.8" y="1612.01" width="30.1" height="2.99" fill="#e24c34" stroke="#231815" stroke-width="1.8"/>
<rect x="1446.8" y="1334.62" width="30" height="280.38" fill="#fabb85" stroke="#231815" stroke-width="1.8"/>
<rect x="1476.8" y="1575" width="30.1" height="40" fill="#e24c34" stroke="#231815" stroke-width="1.8"/>
<text x="1102" y="1624.13" font-size="25.5" fill="#231815" text-anchor="end" >0</text>
<text x="1102" y="1543.33" font-size="25.5" fill="#231815" text-anchor="end" >2</text>
<text x="1102" y="1462.53" font-size="25.5" fill="#231815" text-anchor="end" >4</text>
<text x="1102" y="1381.73" font-size="25.5" fill="#231815" text-anchor="end" >6</text>
<text x="1102" y="1300.93" font-size="25.5" fill="#231815" text-anchor="end" >8</text>
<path d="M1109 1290.8V1615H1530.8M1109 1615h5M1109 1534.2h5M1109 1453.4h5M1109 1372.6h5M1109 1291.8h5" stroke="#231815" stroke-width="2" fill="none"/>
<text x="1162.4" y="1645.5" font-size="25.5" fill="#231815" text-anchor="middle" >a</text>
<text x="1267" y="1645.5" font-size="25.5" fill="#231815" text-anchor="middle" >b</text>
<text x="1371.8" y="1645.5" font-size="25.5" fill="#231815" text-anchor="middle" >c</text>
<text x="1476.8" y="1645.5" font-size="25.5" fill="#231815" text-anchor="middle" >d</text>
<text x="1319.9" y="1677.5" font-size="28.5" fill="#231815" text-anchor="middle" >Scenario</text>
<text transform="translate(1075.4 1453.4) rotate(-90)" font-size="28.5" fill="#231815" text-anchor="middle">MAE of <tspan font-style="italic">P</tspan> [%]</text>
<rect x="1646.6" y="1583.65" width="30.1" height="31.35" fill="#fabb85" stroke="#231815" stroke-width="1.8"/>
<rect x="1676.7" y="1588.66" width="29.5" height="26.34" fill="#e24c34" stroke="#231815" stroke-width="1.8"/>
<rect x="1751.1" y="1295.03" width="30.4" height="319.97" fill="#fabb85" stroke="#231815" stroke-width="1.8"/>
<rect x="1781.5" y="1566.84" width="29.8" height="48.16" fill="#e24c34" stroke="#231815" stroke-width="1.8"/>
<rect x="1856" y="1586.88" width="30" height="28.12" fill="#fabb85" stroke="#231815" stroke-width="1.8"/>
<rect x="1886" y="1612.58" width="30.1" height="2.42" fill="#e24c34" stroke="#231815" stroke-width="1.8"/>
<rect x="1960.8" y="1404.92" width="30" height="210.08" fill="#fabb85" stroke="#231815" stroke-width="1.8"/>
<rect x="1990.8" y="1595.2" width="30.1" height="19.8" fill="#e24c34" stroke="#231815" stroke-width="1.8"/>
<text x="1615.9" y="1624.13" font-size="25.5" fill="#231815" text-anchor="end" >0</text>
<text x="1615.9" y="1543.33" font-size="25.5" fill="#231815" text-anchor="end" >0.1</text>
<text x="1615.9" y="1462.53" font-size="25.5" fill="#231815" text-anchor="end" >0.2</text>
<text x="1615.9" y="1381.73" font-size="25.5" fill="#231815" text-anchor="end" >0.3</text>
<text x="1615.9" y="1300.93" font-size="25.5" fill="#231815" text-anchor="end" >0.4</text>
<path d="M1622.9 1290.8V1615H2045M1622.9 1615h5M1622.9 1534.2h5M1622.9 1453.4h5M1622.9 1372.6h5M1622.9 1291.8h5" stroke="#231815" stroke-width="2" fill="none"/>
<text x="1676.7" y="1645.5" font-size="25.5" fill="#231815" text-anchor="middle" >a</text>
<text x="1781.5" y="1645.5" font-size="25.5" fill="#231815" text-anchor="middle" >b</text>
<text x="1886" y="1645.5" font-size="25.5" fill="#231815" text-anchor="middle" >c</text>
<text x="1990.8" y="1645.5" font-size="25.5" fill="#231815" text-anchor="middle" >d</text>
<text x="1833.95" y="1677.5" font-size="28.5" fill="#231815" text-anchor="middle" >Scenario</text>
<text transform="translate(1569 1453.4) rotate(-90)" font-size="28.5" fill="#231815" text-anchor="middle">MAE of Q [%]</text>
<rect x="756.7" y="1711.5" width="539.2" height="42.5" fill="#fff" stroke="#4a4646" stroke-width="2"/>
<rect x="767.3" y="1721.2" width="110.1" height="23.7" fill="#fabb85" stroke="#231815" stroke-width="1.8"/>
<rect x="1069.6" y="1721.2" width="110.1" height="23.7" fill="#e24c34" stroke="#231815" stroke-width="1.8"/>
<text x="887.1" y="1741.5" font-size="25.5" fill="#231815" text-anchor="start" >Default model</text>
<text x="1188.6" y="1741.5" font-size="25.5" fill="#231815" text-anchor="start" >LSTMCI</text>
</svg>
</body></html>
